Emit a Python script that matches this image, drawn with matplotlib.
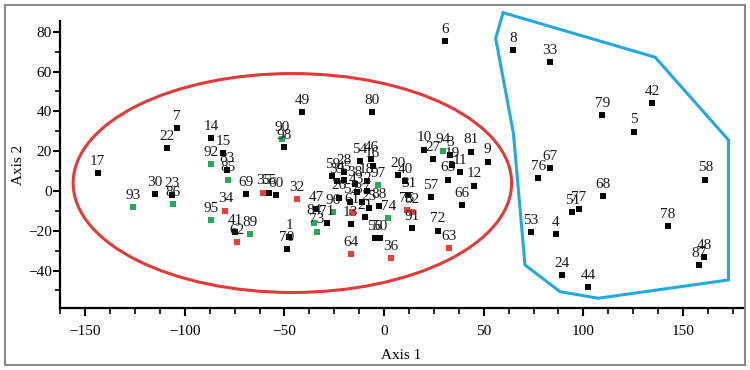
import matplotlib
matplotlib.use("Agg")
import matplotlib.pyplot as plt
from matplotlib.patches import Ellipse, Polygon, Rectangle
from matplotlib.ticker import MultipleLocator

plt.rcParams['font.family'] = ['Liberation Serif', 'DejaVu Serif']

# sample ids, scores on axis 1 / axis 2, and group of each sample
labels = ["17", "22", "7", "14", "15", "92", "83", "85", "69", "93",
          "30", "23", "86", "95", "34", "41", "62", "89", "90", "98",
          "35", "55", "60", "32", "1", "70", "47", "84", "73", "71",
          "96", "26", "59", "39", "28", "45", "54", "46", "16", "38",
          "18", "43", "2", "97", "61", "52", "37", "21", "25", "88",
          "74", "13", "64", "56", "50", "36", "20", "40", "31", "75",
          "82", "91", "10", "27", "94", "3", "19", "11", "65", "81",
          "9", "12", "66", "57", "72", "63", "49", "80", "6",
          "8", "33", "79", "42", "5", "58", "76", "67", "68", "51",
          "77", "53", "4", "78", "24", "44", "48", "87"]
axis1 = [-143.7, -108.7, -104.0, -86.7, -80.7, -86.7, -78.7, -78.3, -69.3, -126.0,
         -115.0, -106.5, -106.0, -87.0, -79.6, -74.6, -73.9, -67.2, -51.0, -50.0,
         -60.5, -57.8, -54.3, -43.7, -47.6, -48.8, -34.0, -35.0, -33.8, -28.7,
         -25.7, -22.6, -26.0, -23.7, -19.9, -19.9, -12.0, -6.5, -5.7, -14.5,
         -8.7, -13.7, -8.7, -2.8, -16.2, -17.0, -11.2, -9.8, -7.8, -2.5,
         2.2, -16.7, -16.5, -4.5, -2.0, 3.3, 7.2, 10.5, 12.2, 11.4,
         13.9, 13.9, 20.2, 24.7, 29.8, 33.1, 34.3, 38.1, 32.0, 43.7,
         52.0, 45.2, 39.0, 23.4, 27.0, 32.5, -41.0, -6.0, 30.6,
         64.9, 83.3, 109.5, 134.6, 125.3, 161.2, 77.3, 83.3, 110.0, 94.5,
         97.8, 73.8, 86.2, 142.3, 89.1, 102.5, 160.7, 158.0]
axis2 = [9.0, 21.6, 31.5, 26.5, 19.0, 13.5, 10.4, 5.6, -1.7, -8.3,
         -1.7, -2.0, -6.5, -14.6, -9.9, -20.8, -25.8, -21.8, 26.0, 21.9,
         -0.8, -0.8, -2.0, -4.2, -23.3, -29.3, -9.0, -15.9, -20.4, -16.2,
         -10.8, -3.3, 7.3, 4.8, 9.4, 5.6, 14.9, 16.0, 12.7, 3.5,
         4.8, -0.3, 0.2, 3.0, -10.4, -5.3, -5.3, -13.2, -8.7, -7.5,
         -13.8, -16.7, -31.7, -23.8, -23.8, -33.9, 7.8, 4.8, -2.0, -9.5,
         -10.4, -18.8, 20.8, 16.0, 19.9, 18.2, 13.1, 9.3, 5.6, 19.8,
         14.7, 2.7, -7.1, -3.0, -19.9, -28.7, 39.5, 39.5, 75.2,
         70.6, 64.7, 38.2, 44.1, 29.8, 5.6, 6.4, 11.4, -2.5, -10.7,
         -9.0, -20.8, -21.8, -17.8, -42.2, -48.4, -33.3, -37.2]
groups = ["k", "k", "k", "k", "k", "g", "k", "g", "k", "g",
          "k", "k", "g", "g", "r", "k", "r", "g", "g", "k",
          "r", "k", "k", "r", "k", "k", "k", "g", "g", "k",
          "g", "k", "k", "k", "k", "k", "k", "k", "k", "k",
          "k", "k", "k", "g", "r", "k", "k", "k", "k", "k",
          "g", "k", "r", "k", "k", "r", "k", "k", "k", "r",
          "r", "k", "k", "k", "g", "k", "k", "k", "k", "k",
          "k", "k", "k", "k", "k", "r", "k", "k", "k",
          "k", "k", "k", "k", "k", "k", "k", "k", "k", "k",
          "k", "k", "k", "k", "k", "k", "k", "k"]

# outline drawn round the right-hand group
hull_x = [59.7, 56.0, 64.9, 67.4, 70.7, 88.3, 107.5, 172.8, 172.8, 136.0]
hull_y = [89.6, 76.7, 29.0, 0.5, -37.2, -50.6, -53.9, -44.7, 25.6, 67.2]

colors = {"k": "#000000", "g": "#2aa85a", "r": "#e8403f"}

fig = plt.figure(figsize=(7.5, 3.7), dpi=100)
ax = fig.add_axes([0.08, 0.1676, 0.9107, 0.7756])

for lab, x, y, g in zip(labels, axis1, axis2, groups):
    ax.scatter(x, y, marker="s", s=24, color=colors[g], zorder=3, linewidths=0)
    ax.annotate(lab, (x, y), xytext=(0, 6), textcoords="offset points",
                ha="center", va="baseline", fontsize=11, color="#1a1a1a", zorder=4)

ax.add_patch(Ellipse((-46, 4), 220, 110, fill=False, edgecolor="#e03a3a", lw=2.2, zorder=2))
ax.add_patch(Polygon(list(zip(hull_x, hull_y)), closed=True, fill=False,
                     edgecolor="#22aadd", lw=2.2, clip_on=False, zorder=2))

ax.set_xlim(-162.6, 180.1)
ax.set_ylim(-58.8, 85.4)
ax.spines["top"].set_visible(False)
ax.spines["right"].set_visible(False)
ax.spines["left"].set_linewidth(1.6)
ax.spines["bottom"].set_linewidth(1.6)

ax.xaxis.set_major_locator(MultipleLocator(50))
ax.xaxis.set_minor_locator(MultipleLocator(12.5))
ax.yaxis.set_major_locator(MultipleLocator(20))
ax.yaxis.set_minor_locator(MultipleLocator(10))
ax.tick_params(axis="x", which="major", length=6, width=1.5, pad=6, labelsize=11)
ax.tick_params(axis="x", which="minor", length=4.5, width=1.2)
ax.tick_params(axis="y", which="major", length=5, width=1.5, pad=1, labelsize=11)
ax.tick_params(axis="y", which="minor", length=3.5, width=1.2)
ax.set_yticks([-40, -20, 0, 20, 40, 60, 80])

ax.set_xlabel("Axis 1", fontsize=11, labelpad=8)
ax.set_ylabel("Axis 2", fontsize=11, labelpad=2)

fig.patches.append(Rectangle((5 / 750, 5 / 370), 740 / 750, 360 / 370,
                             transform=fig.transFigure, fill=False,
                             edgecolor="#888888", lw=1.5))

fig.savefig("out.png", dpi=100)
